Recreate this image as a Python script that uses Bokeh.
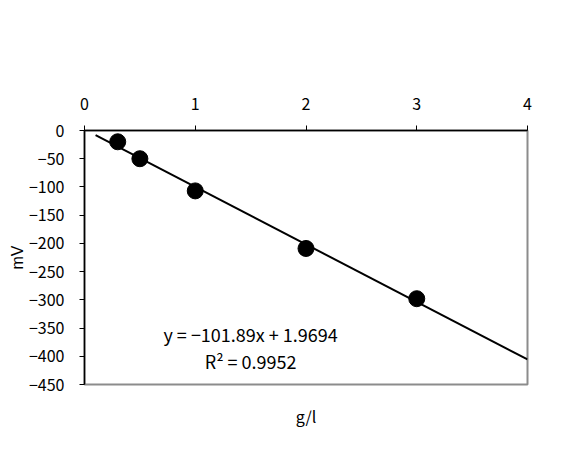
from bokeh.plotting import figure
from bokeh.models import Range1d, Label, Title, FixedTicker
from bokeh.embed import file_html
from bokeh.resources import INLINE

# data
conc = [0.3, 0.5, 1.0, 2.0, 3.0]
mv = [-20, -50, -107, -209, -298]
slope = -101.89
intercept = 1.9694
trend_x = [0.1, 4.0]
x_ticks = [0, 1, 2, 3, 4]
y_ticks = [0, -50, -100, -150, -200, -250, -300, -350, -400, -450]
y_tick_labels = ["0", "−50", "−100", "−150", "−200", "−250", "−300", "−350", "−400", "−450"]
eq_text = "y = −101.89x + 1.9694"
r2_text = "R² = 0.9952"
x_title = "g/l"
y_title = "mV"

FONT = "Noto Sans CJK JP"
FS = "16px"

p = figure(frame_width=443, frame_height=254, min_border_left=84, min_border_top=130,
           min_border_right=47, min_border_bottom=52, output_backend="svg",
           toolbar_location=None, x_axis_location="above",
           x_range=Range1d(0, 4), y_range=Range1d(-450, 0))
p.grid.visible = False
p.outline_line_color = "#8c8c8c"
p.outline_line_width = 2
p.background_fill_color = "white"
p.border_fill_color = "white"

for ax in (p.xaxis[0], p.yaxis[0]):
    ax.axis_line_color = "black"
    ax.axis_line_width = 1.5
    ax.major_tick_line_color = "black"
    ax.major_tick_in = 0
    ax.major_tick_out = 5
    ax.minor_tick_line_color = None
    ax.major_label_text_font = FONT
    ax.major_label_text_font_size = FS
    ax.major_label_text_color = "black"

p.xaxis.ticker = FixedTicker(ticks=x_ticks)
p.xaxis.major_label_standoff = 16
p.yaxis.ticker = FixedTicker(ticks=y_ticks)
p.yaxis.major_label_overrides = {t: l for t, l in zip(y_ticks, y_tick_labels)}
p.yaxis.major_label_standoff = 15
p.yaxis.axis_label = y_title
p.yaxis.axis_label_standoff = 0
p.yaxis.axis_label_text_font = "Liberation Sans"
p.yaxis.axis_label_text_font_size = FS
p.yaxis.axis_label_text_font_style = "normal"
p.yaxis.axis_label_text_color = "black"

trend_y = [slope * x + intercept for x in trend_x]
p.line(trend_x, trend_y, line_color="black", line_width=2)
p.scatter(conc, mv, size=16, fill_color="black", line_color="black")

p.add_layout(Label(x=1.5, y=-361, text=eq_text, text_align="center", text_baseline="middle",
                   text_font=FONT, text_font_size="18px", text_color="black"))
p.add_layout(Label(x=1.5, y=-408, text=r2_text, text_align="center", text_baseline="middle",
                   text_font=FONT, text_font_size="18px", text_color="black"))

p.add_layout(Title(text=x_title, align="center", text_font=FONT, text_font_size=FS,
                   text_font_style="normal", text_color="black", standoff=34), "below")

open("out.html", "w").write(file_html(p, INLINE))
